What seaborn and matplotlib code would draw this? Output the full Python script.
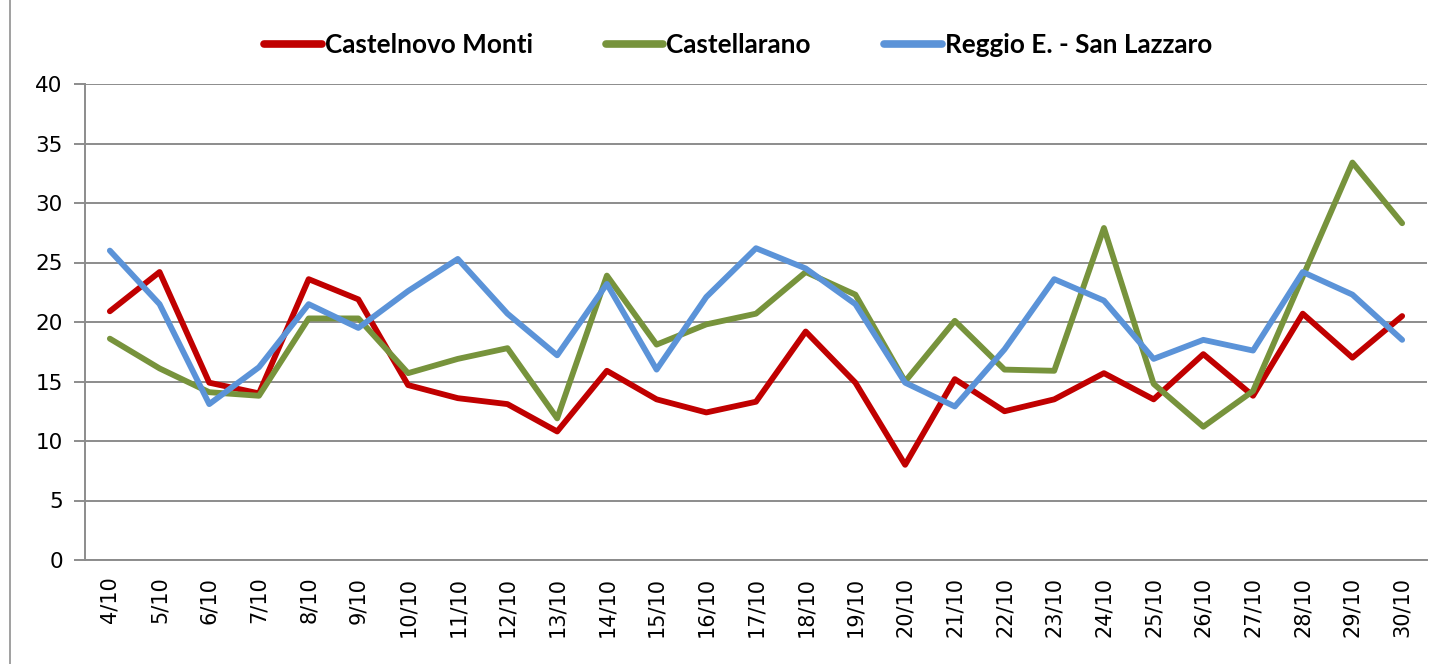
import pandas as pd
import matplotlib.pyplot as plt
import seaborn as sns
from matplotlib.lines import Line2D
from matplotlib.ticker import FixedLocator, MultipleLocator

# Data
days = [f"{d}/10" for d in range(4, 31)]
castelnovo = [20.9, 24.2, 14.9, 14.0, 23.6, 21.9, 14.7, 13.6, 13.1, 10.8,
              15.9, 13.5, 12.4, 13.3, 19.2, 14.9, 8.0, 15.2, 12.5, 13.5,
              15.7, 13.5, 17.3, 13.8, 20.7, 17.0, 20.5]
castellarano = [18.6, 16.1, 14.1, 13.8, 20.3, 20.3, 15.7, 16.9, 17.8, 11.9,
                23.9, 18.1, 19.8, 20.7, 24.2, 22.3, 15.0, 20.1, 16.0, 15.9,
                27.9, 14.8, 11.2, 14.2, 23.8, 33.4, 28.3]
reggio = [26.0, 21.5, 13.1, 16.2, 21.5, 19.5, 22.6, 25.3, 20.7, 17.2,
          23.2, 16.0, 22.1, 26.2, 24.5, 21.5, 14.9, 12.9, 17.7, 23.6,
          21.8, 16.9, 18.5, 17.6, 24.2, 22.3, 18.5]
series = ["Castelnovo Monti", "Castellarano", "Reggio E. - San Lazzaro"]
colors = ["#C00000", "#77933C", "#5B93D8"]

df = pd.DataFrame({"day": days, series[0]: castelnovo,
                   series[1]: castellarano, series[2]: reggio})
long = df.melt(id_vars="day", var_name="station", value_name="value")
long["pos"] = long["day"].map({d: i for i, d in enumerate(days)})

sns.set_style("white")
plt.rcParams["font.family"] = ["DejaVu Sans"]
plt.rcParams["text.color"] = "black"

fig = plt.figure(figsize=(14.5, 6.64), dpi=100)
ax = fig.add_axes([85 / 1450, 1 - 560 / 664, (1427 - 85) / 1450, (560 - 84) / 664])

sns.lineplot(data=long, x="pos", y="value", hue="station", hue_order=series,
             palette=colors, linewidth=4.2, ax=ax, legend=False)

grid_col = "#8C8C8C"
ax.set_xlim(-0.5, len(days) - 0.5)
ax.set_ylim(0, 40)
ax.yaxis.set_major_locator(MultipleLocator(5))
ax.yaxis.grid(True, color=grid_col, linewidth=1.4)
ax.set_axisbelow(True)
ax.set_xticks(range(len(days)))
ax.set_xticklabels(days, rotation=90)
ax.xaxis.set_minor_locator(FixedLocator([i - 0.5 for i in range(len(days) + 1)]))
ax.tick_params(axis="x", which="major", length=0, pad=12, labelsize=15, labelcolor="black")
ax.tick_params(axis="x", which="minor", length=8, width=1.4, color=grid_col, direction="out")
ax.tick_params(axis="y", length=8, width=1.4, color=grid_col, direction="out",
               pad=8, labelsize=15.5, left=True, labelcolor="black")
ax.set_xlabel("")
ax.set_ylabel("")
for side in ["top", "right"]:
    ax.spines[side].set_visible(False)
for side in ["left", "bottom"]:
    ax.spines[side].set_color(grid_col)
    ax.spines[side].set_linewidth(1.4)

handles = [Line2D([0], [0], color=c, linewidth=5.5) for c in colors]
fig.legend(handles, series, loc="center", bbox_to_anchor=(738 / 1450, 1 - 45 / 664),
           ncol=3, frameon=False, handlelength=2.2, handletextpad=0.12,
           columnspacing=2.8, labelcolor="black",
           prop={"family": ["Lato", "DejaVu Sans"], "weight": "bold", "size": 18.8})

fig.add_artist(Line2D([10 / 1450, 10 / 1450], [0, 1], color="#A0A0A0", linewidth=1.4))

fig.savefig("out.png", dpi=100)
